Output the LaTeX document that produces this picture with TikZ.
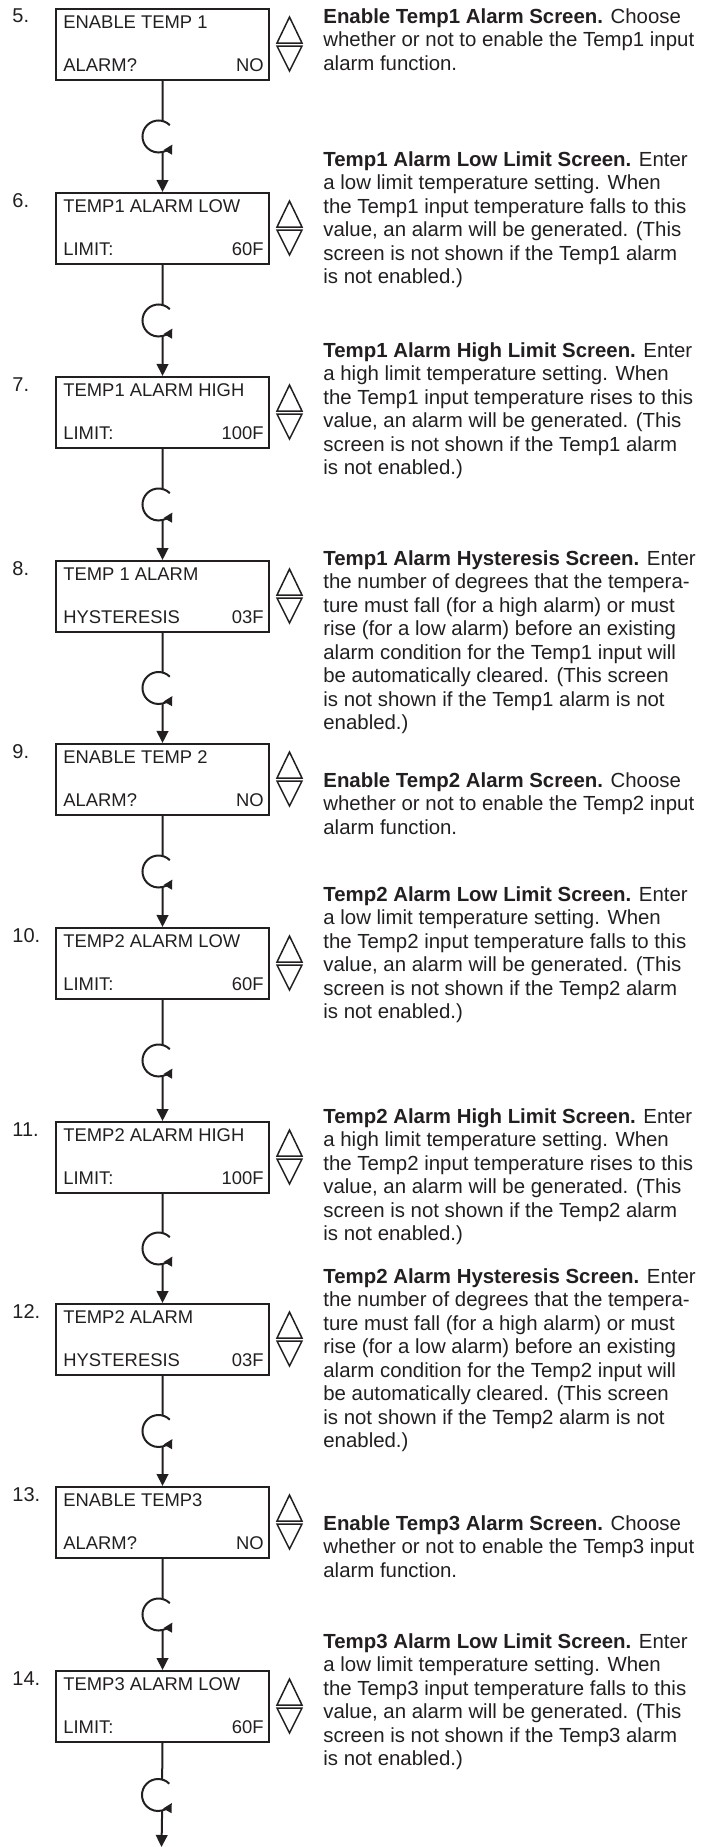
\documentclass[tikz,border=0pt]{standalone}
\usepackage{fontspec}
\setmainfont{Liberation Sans}
\usetikzlibrary{arrows.meta,calc}
\definecolor{ink}{RGB}{35,31,32}

\tikzset{
  screen/.style={draw, line width=1pt, minimum width=106.5pt, minimum height=35.5pt, inner sep=0pt, anchor=north west},
  lcd/.style={font=\fontsize{9.2}{11}\selectfont, inner sep=0pt},
  num/.style={font=\fontsize{10}{12}\selectfont, inner sep=0pt, anchor=base west},
  desc/.style={font=\fontsize{10.2}{11.75}\selectfont, align=left, inner sep=0pt, anchor=north west},
  loopc/.style={circle, minimum size=16pt, inner sep=0pt, outer sep=0pt},
  flow/.style={line width=1pt, -{Triangle[length=6pt,width=5.8pt]}},
  turn/.style={line width=1pt, -{Triangle[length=4.5pt,width=4.5pt]}},
  updown/.style={line width=0.75pt, line join=miter},
}

\begin{document}
\begin{tikzpicture}[x=0.5pt, y=-0.5pt, color=ink]
\useasboundingbox (0,0) rectangle (708,1847);

% the screens
\foreach \n/\y/\ta/\ba/\bb in {5/8/ENABLE TEMP 1/ALARM?/NO, 6/192/TEMP1 ALARM LOW/LIMIT:/60F,
    7/376/TEMP1 ALARM HIGH/LIMIT:/100F, 8/560/TEMP 1 ALARM/HYSTERESIS/03F,
    9/743/ENABLE TEMP 2/ALARM?/NO, 10/927/TEMP2 ALARM LOW/LIMIT:/60F,
    11/1121/TEMP2 ALARM HIGH/LIMIT:/100F, 12/1303/TEMP2 ALARM/HYSTERESIS/03F,
    13/1486/ENABLE TEMP3/ALARM?/NO, 14/1670/TEMP3 ALARM LOW/LIMIT:/60F}{
  \node[screen] (s\n) at (55,\y) {};
  \node[lcd, anchor=base west] (t\n) at ([shift={(8,20)}]s\n.north west) {\ta};
  \node[lcd, anchor=base west] (l\n) at ([shift={(8,63)}]s\n.north west) {\ba};
  \node[lcd, anchor=base east] (r\n) at ([shift={(-6,63)}]s\n.north east) {\bb};
  \node[num] (n\n) at ([shift={(-43,15)}]s\n.north west) {\n.};
  % up/down keys
  \draw[updown] (s\n.east) ++(19.5,-27.5) -- ++(12.5,26) -- ++(-25,0) -- cycle;
  \draw[updown] (s\n.east) ++(7,1.5) -- ++(25,0) -- ++(-12.5,25) -- cycle;
}

% scroll between screens
\foreach \a/\b in {5/6,6/7,7/8,8/9,9/10,10/11,11/12,12/13,13/14}{
  \node[loopc] (c\a) at ($(s\a.south)!0.5!(s\b.north)+(-4,0)$) {};
  \draw[line width=1pt] (s\a.south) -- (c\a.75);
  \draw[turn] (c\a.45) arc[start angle=45, end angle=330, radius=8pt];
  \draw[flow] (c\a.-75) -- (s\b.north);
}
\coordinate (tail) at (161.5,1847);
\node[loopc] (c14) at ($(s14.south)!0.5!(tail)+(-4,0)$) {};
\draw[line width=1pt] (s14.south) -- (c14.75);
\draw[turn] (c14.45) arc[start angle=45, end angle=330, radius=8pt];
\draw[flow] (c14.-75) -- (tail);

% descriptions
\node[desc] (d5) at (323,8.2) {\textbf{Enable Temp1 Alarm Screen.} Choose\\whether or not to enable the Temp1 input\\alarm function.};
\node[desc] (d6) at (323,151.2) {\textbf{Temp1 Alarm Low Limit Screen.} Enter\\a low limit temperature setting. When\\the Temp1 input temperature falls to this\\value, an alarm will be generated. (This\\screen is not shown if the Temp1 alarm\\is not enabled.)};
\node[desc] (d7) at (323,342.2) {\textbf{Temp1 Alarm High Limit Screen.} Enter\\a high limit temperature setting. When\\the Temp1 input temperature rises to this\\value, an alarm will be generated. (This\\screen is not shown if the Temp1 alarm\\is not enabled.)};
\node[desc] (d8) at (323,550.2) {\textbf{Temp1 Alarm Hysteresis Screen.} Enter\\the number of degrees that the tempera-\\ture must fall (for a high alarm) or must\\rise (for a low alarm) before an existing\\alarm condition for the Temp1 input will\\be automatically cleared. (This screen\\is not shown if the Temp1 alarm is not\\enabled.)};
\node[desc] (d9) at (323,772.2) {\textbf{Enable Temp2 Alarm Screen.} Choose\\whether or not to enable the Temp2 input\\alarm function.};
\node[desc] (d10) at (323,886.2) {\textbf{Temp2 Alarm Low Limit Screen.} Enter\\a low limit temperature setting. When\\the Temp2 input temperature falls to this\\value, an alarm will be generated. (This\\screen is not shown if the Temp2 alarm\\is not enabled.)};
\node[desc] (d11) at (323,1108.2) {\textbf{Temp2 Alarm High Limit Screen.} Enter\\a high limit temperature setting. When\\the Temp2 input temperature rises to this\\value, an alarm will be generated. (This\\screen is not shown if the Temp2 alarm\\is not enabled.)};
\node[desc] (d12) at (323,1268.2) {\textbf{Temp2 Alarm Hysteresis Screen.} Enter\\the number of degrees that the tempera-\\ture must fall (for a high alarm) or must\\rise (for a low alarm) before an existing\\alarm condition for the Temp2 input will\\be automatically cleared. (This screen\\is not shown if the Temp2 alarm is not\\enabled.)};
\node[desc] (d13) at (323,1515.2) {\textbf{Enable Temp3 Alarm Screen.} Choose\\whether or not to enable the Temp3 input\\alarm function.};
\node[desc] (d14) at (323,1633.2) {\textbf{Temp3 Alarm Low Limit Screen.} Enter\\a low limit temperature setting. When\\the Temp3 input temperature falls to this\\value, an alarm will be generated. (This\\screen is not shown if the Temp3 alarm\\is not enabled.)};
\end{tikzpicture}
\end{document}
